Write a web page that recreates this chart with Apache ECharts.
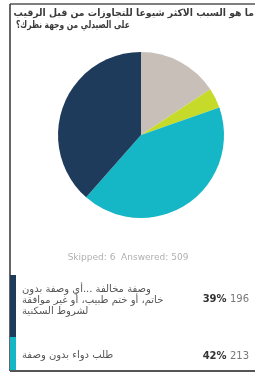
<!DOCTYPE html>
<html>
<head>
<meta charset="utf-8">
<script src="https://cdn.jsdelivr.net/npm/echarts@6/dist/echarts.min.js"></script>
<style>
html, body { margin: 0; padding: 0; background: #ffffff; }
#main { width: 255px; height: 381px; }
</style>
</head>
<body>
<div id="main"></div>
<script>
var titleLines = ['ما هو السبب الاكثر شيوعا للتجاوزات من قبل الرقيب', 'على الصيدلي من وجهة نظرك؟'];
var categories = ['أخرى', 'أسباب أخرى', 'طلب دواء بدون وصفة', 'وصفة مخالفة ...أي وصفة بدون خاتم، أو ختم طبيب، أو غير موافقة لشروط السكنية'];
var counts = [80, 20, 213, 196];
var colors = ['#c8bfb8', '#c6da2a', '#15b6c6', '#1e3b5b'];
var skipped = 6;
var answered = 509;

// rows shown under the pie: index into the arrays above
var rows = [
    { idx: 3, lines: ['وصفة مخالفة ...أي وصفة بدون', 'خاتم، أو ختم طبيب، أو غير موافقة', 'لشروط السكنية'], top: 275, height: 62, textY: 300, numY: 299 },
    { idx: 2, lines: ['طلب دواء بدون وصفة'], top: 337, height: 33, textY: 355, numY: 356 }
];

var mainDiv = document.getElementById('main');
var myChart = echarts.init(mainDiv);

var pieData = categories.map(function (name, i) {
    return { name: name, value: counts[i], itemStyle: { color: colors[i] } };
});

var graphics = [
    // frame
    { type: 'line', shape: { x1: 10, y1: 4, x2: 255, y2: 4 }, style: { stroke: '#555', lineWidth: 1.5 } },
    { type: 'line', shape: { x1: 10, y1: 4, x2: 10, y2: 371 }, style: { stroke: '#333', lineWidth: 1.5 } },
    { type: 'line', shape: { x1: 10, y1: 371, x2: 255, y2: 371 }, style: { stroke: '#555', lineWidth: 2 } },
    {
        type: 'text', x: 254, y: 13, scaleX: 0.93, originX: 0, originY: 0,
        style: { text: titleLines[0], font: 'bold 10px "DejaVu Sans"', fill: '#3a3a3a', align: 'right', verticalAlign: 'middle' }
    },
    {
        type: 'text', x: 16, y: 25, scaleX: 0.75, originX: 0, originY: 0,
        style: { text: titleLines[1], font: 'bold 10px "DejaVu Sans"', fill: '#3a3a3a', align: 'left', verticalAlign: 'middle' }
    },
    {
        type: 'text', x: 128, y: 258,
        style: { text: 'Skipped: ' + skipped + '  Answered: ' + answered, font: '9px "DejaVu Sans"', fill: '#b0b0b0', align: 'center', verticalAlign: 'middle' }
    }
];

rows.forEach(function (r) {
    var pct = Math.round(counts[r.idx] / answered * 100);
    graphics.push({ type: 'rect', shape: { x: 10, y: r.top, width: 6, height: r.height }, style: { fill: colors[r.idx] } });
    graphics.push({
        type: 'text', x: 22, y: r.textY,
        style: { text: r.lines.join('\n'), font: '10px "DejaVu Sans"', lineHeight: 11, fill: '#555', align: 'left', verticalAlign: 'middle' }
    });
    graphics.push({
        type: 'text', x: 249, y: r.numY,
        style: {
            text: '{b|' + pct + '%} {n|' + counts[r.idx] + '}',
            align: 'right', verticalAlign: 'middle',
            rich: {
                b: { font: 'bold 10px "DejaVu Sans"', fill: '#333' },
                n: { font: '10px "DejaVu Sans"', fill: '#777' }
            }
        }
    });
});

var option = {
    backgroundColor: '#ffffff',
    animation: false,
    series: [
        {
            type: 'pie',
            center: [141, 135],
            radius: 83,
            startAngle: 90,
            clockwise: true,
            label: { show: false },
            labelLine: { show: false },
            itemStyle: { borderWidth: 0 },
            data: pieData
        }
    ],
    graphic: graphics
};
myChart.setOption(option);
</script>
</body>
</html>
